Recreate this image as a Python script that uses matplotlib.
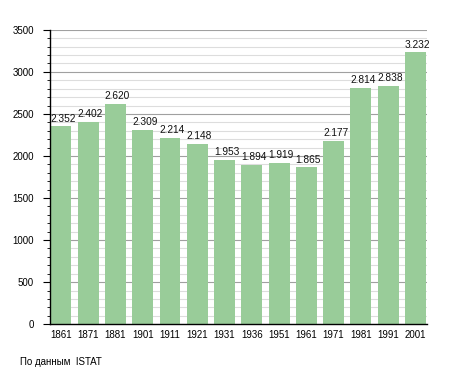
import matplotlib.pyplot as plt
from matplotlib.ticker import MultipleLocator

years = ['1861', '1871', '1881', '1901', '1911', '1921', '1931',
         '1936', '1951', '1961', '1971', '1981', '1991', '2001']
population = [2352, 2402, 2620, 2309, 2214, 2148, 1953,
              1894, 1919, 1865, 2177, 2814, 2838, 3232]

plt.rcParams['font.family'] = ['Liberation Sans', 'DejaVu Sans']

fig = plt.figure(figsize=(4.55, 3.73), dpi=100)
ax = fig.add_axes([0.110, 0.131, 0.828, 0.789])

x = range(len(years))
bars = ax.bar(x, population, width=0.77, color='#99cc99', zorder=2)

for i, v in enumerate(population):
    ax.annotate(f"{v:,}".replace(',', '.'), (i, v), xytext=(1.5, 2),
                textcoords='offset points', ha='center', va='bottom',
                fontsize=7.3, color='#111111', zorder=3)

ax.set_xlim(-0.4, 13.42)
ax.set_ylim(0, 3500)
ax.set_xticks(list(x))
ax.set_xticklabels(years)
ax.yaxis.set_major_locator(MultipleLocator(500))
ax.yaxis.set_minor_locator(MultipleLocator(100))

ax.grid(axis='y', which='major', color='#a0a0a0', linewidth=0.8, zorder=0)
ax.grid(axis='y', which='minor', color='#dddddd', linewidth=0.8, zorder=0)
ax.set_axisbelow(True)

ax.spines['top'].set_visible(False)
ax.spines['right'].set_visible(False)
ax.spines['left'].set_linewidth(1.0)
ax.spines['bottom'].set_linewidth(1.0)

ax.tick_params(axis='x', length=0, pad=4, labelsize=7)
ax.tick_params(axis='y', which='major', length=5, pad=6.5, labelsize=7)
ax.tick_params(axis='y', which='minor', length=2.5)

fig.text(20 / 455, 1 - 362 / 373, 'По данным  ISTAT', fontsize=7, va='center')

fig.savefig('out.png', dpi=100)
